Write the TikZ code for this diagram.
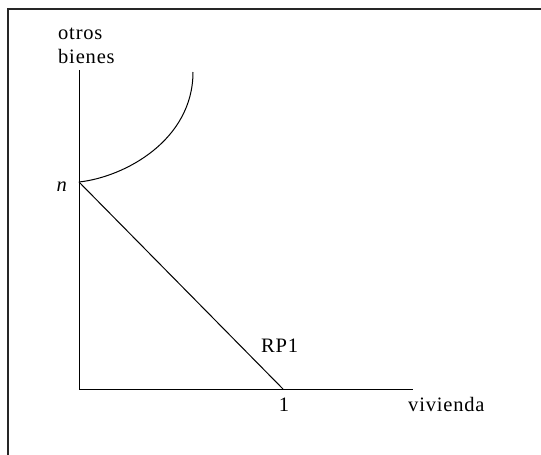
\documentclass[tikz,border=0pt]{standalone}
\usepackage{fontspec}
\setmainfont[LetterSpace=4]{Liberation Serif}
\usetikzlibrary{positioning}

\begin{document}
\begin{tikzpicture}[x=1pt, y=-1pt, font=\fontsize{20.5}{24}\selectfont,
      frm/.style={draw=black!85, line width=1.8pt},
      axis/.style={draw=black, line width=1pt},
      crv/.style={draw=black, line width=1pt},
      lbl/.style={inner sep=0pt, anchor=base west}]
      \useasboundingbox (0,0) rectangle (541,455);
      \draw[frm] (8,455) -- (8,9) -- (541,9);

      \coordinate (o) at (79,389);
      \coordinate (ytop) at (79,70);
      \coordinate (xend) at (413,389);
      \coordinate (n) at (79,182);
      \coordinate (uno) at (283,389);
      \coordinate (ctop) at (193,72);

      \node[lbl] (otros) at (58,39) {otros};
      \node[lbl] (bienes) at (58,63) {bienes};
      \node[lbl, anchor=base east] (nlab) at (67,191) {\itshape n};
      \node[lbl] (rp) at (261,352) {RP1};
      \node[lbl, anchor=base] (unolab) at (284,411) {1};
      \node[lbl] (viv) at (408,411) {vivienda};

      \draw[axis] (ytop) -- (o) -- (xend);
      \draw[axis] (n) -- (uno);
      \draw[crv] (n) .. controls (125,177) and (193,140) .. (ctop);
    \end{tikzpicture}
\end{document}
